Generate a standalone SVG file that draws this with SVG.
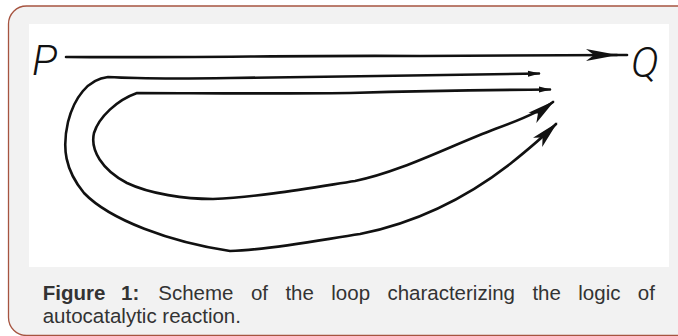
<svg xmlns="http://www.w3.org/2000/svg" width="678" height="336" viewBox="0 0 678 336">
<style>
.ink{fill:none;stroke:#111;stroke-width:2.6;stroke-linecap:round;stroke-linejoin:round}
.hand{font-family:Roboto,"Liberation Sans",sans-serif;font-style:italic;font-weight:300;font-size:42px;fill:#111}
.cap{font-family:"Liberation Sans",Arial,sans-serif;font-size:20.5px;fill:#333}
.b{font-weight:bold}
</style>
<defs>
<marker id="dart" markerUnits="userSpaceOnUse" viewBox="-30 -10 34 20" markerWidth="34" markerHeight="20" refX="0" refY="0" orient="auto-start-reverse" overflow="visible">
<path d="M2,0 L-26,-6.5 L-19,0 L-26,6.5 Z" fill="#111"/>
</marker>
<marker id="small" markerUnits="userSpaceOnUse" viewBox="-14 -5 16 10" markerWidth="16" markerHeight="10" refX="0" refY="0" orient="auto-start-reverse" overflow="visible">
<path d="M1,0 L-11,-3 L-11,3 Z" fill="#111"/>
</marker>
<marker id="big" markerUnits="userSpaceOnUse" viewBox="-34 -8 36 16" markerWidth="36" markerHeight="16" refX="0" refY="0" orient="auto" overflow="visible">
<path d="M1,0 L-31,-6 L-23,0 L-31,6 Z" fill="#111"/>
</marker>
</defs>
<rect x="0" y="0" width="678" height="336" fill="#fff"/>
<rect x="8.5" y="6" width="700" height="329.5" rx="18" fill="#f2f2f2" stroke="#a65440" stroke-width="1.3"/>
<rect x="29" y="24" width="640" height="243" fill="#fff"/>

<g id="P"><text class="hand" x="32" y="75">P</text></g>
<g id="Q"><text class="hand" x="631" y="77">Q</text></g>

<g id="connectors">
<path class="ink" d="M66,57 C200,58 300,55 420,56 C500,56 560,55 617,55" marker-end="url(#big)"/>
<path class="ink" d="M612,55 L627,55"/>
<path class="ink" d="M539,73.5 C440,75 330,77 230,78 C160,79 125,78 108,77 C88,79 74,98 68,122 C62,148 65,170 84,193 C110,220 170,242 230,251 C270,250 320,240 360,234 C420,222 470,195 510,164 C530,148 545,135 556,124" marker-start="url(#small)" marker-end="url(#dart)"/>
<path class="ink" d="M550,89.5 C480,90 420,91 350,93 C260,94 190,93 137,93 C117,100 99,117 94,133 C90,150 102,170 127,183 C150,194 185,199 213,199 C260,197 310,188 355,181 C400,172 450,146 495,129 C520,120 540,112 553,102" marker-start="url(#small)" marker-end="url(#dart)"/>
</g>

<g id="caption">
<text class="cap b" x="42.7" y="300">Figure</text>
<text class="cap b" x="121" y="300">1:</text>
<text class="cap" x="158.3" y="300">Scheme</text>
<text class="cap" x="250.9" y="300">of</text>
<text class="cap" x="285.4" y="300">the</text>
<text class="cap" x="331.3" y="300">loop</text>
<text class="cap" x="387.4" y="300">characterizing</text>
<text class="cap" x="532.4" y="300">the</text>
<text class="cap" x="578.3" y="300">logic</text>
<text class="cap" x="637.8" y="300">of</text>
<text class="cap" x="42.7" y="323">autocatalytic reaction.</text>
</g>
</svg>
